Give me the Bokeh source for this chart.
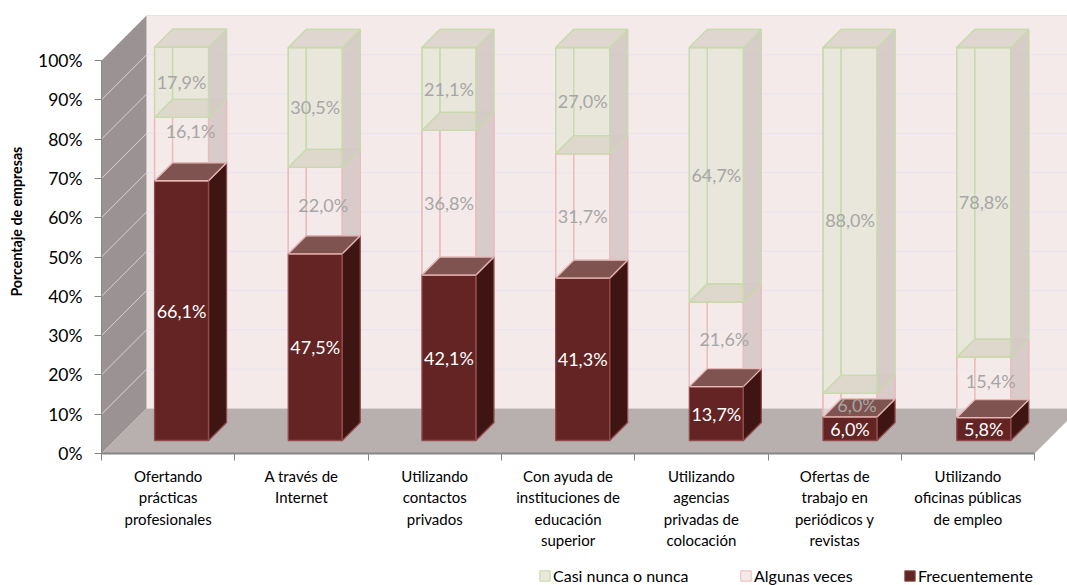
from math import pi
from bokeh.embed import file_html
from bokeh.resources import INLINE
from bokeh.plotting import figure
from bokeh.models import (ColumnDataSource, FixedTicker, Label, Legend, LegendItem,
                          Range1d, PrintfTickFormatter)
from bokeh.core.properties import value

categories = ["Ofertando\nprácticas\nprofesionales", "A través de\nInternet",
              "Utilizando\ncontactos\nprivados",
              "Con ayuda de\ninstituciones de\neducación\nsuperior",
              "Utilizando\nagencias\nprivadas de\ncolocación",
              "Ofertas de\ntrabajo en\nperiódicos y\nrevistas",
              "Utilizando\noficinas públicas\nde empleo"]
frecuentemente = [66.1, 47.5, 42.1, 41.3, 13.7, 6.0, 5.8]
algunas_veces = [16.1, 22.0, 36.8, 31.7, 21.6, 6.0, 15.4]
casi_nunca = [17.9, 30.5, 21.1, 27.0, 64.7, 88.0, 78.8]
y_ticks = [0, 10, 20, 30, 40, 50, 60, 70, 80, 90, 100]

# label nudges for the labels that Excel moved off the segment centre (px)
nudge_alg_x = [9, 8, 0, 0, 8, 7, 7]
nudge_alg_y = [-18, -6, 0, 0, -5, 0, -6]

FONT = "Lato"
PX_X, PX_Y = 133.3, 3.93          # pixels per category / per percent
STEP = 133.7 / 133.3              # slight spread of the bars in depth
WALL, BAR_NEAR, BAR_FAR = 45, 13, 31   # depth, in pixels
BAR_W = 54 / PX_X
W, H = 1067, 585
ORIGIN_X, ORIGIN_Y = 101, 453     # where 0/0 sits on the page


def pr(x, y, d):
    return x + d / PX_X, y + d / PX_Y


p = figure(width=W, height=H, output_backend="svg", toolbar_location=None,
           x_range=Range1d(-ORIGIN_X / PX_X, (W - ORIGIN_X) / PX_X),
           y_range=Range1d(-(H - ORIGIN_Y) / PX_Y, ORIGIN_Y / PX_Y),
           min_border_left=0, min_border_right=0, min_border_top=0, min_border_bottom=0,
           outline_line_color=None, background_fill_color="white", border_fill_color="white")
p.margin = (0, -8, -8, 0)
p.grid.visible = False

# walls and floor
walls = {"xs": [], "ys": [], "c": []}


def wall(pts, c):
    walls["xs"].append([a for a, _ in pts])
    walls["ys"].append([b for _, b in pts])
    walls["c"].append(c)


nc = len(categories)
wall([pr(0, 0, WALL), pr(nc, 0, WALL), pr(nc, 100, WALL), pr(0, 100, WALL)], "#F5EAEA")
wall([pr(0, 0, 0), pr(0, 0, WALL), pr(0, 100, WALL), pr(0, 100, 0)], "#9B9393")
wall([pr(0, 0, 0), pr(nc, 0, 0), pr(nc, 0, WALL), pr(0, 0, WALL)], "#B8AFAF")
p.patches("xs", "ys", source=ColumnDataSource(walls), fill_color="c", line_color=None)

gx0, gy0, gx1, gy1 = [], [], [], []
for t in y_ticks[1:]:
    a, b = pr(0, t, WALL), pr(nc, t, WALL)
    gx0.append(a[0]); gy0.append(a[1]); gx1.append(b[0]); gy1.append(b[1])
p.segment(gx0, gy0, gx1, gy1, line_color="#E6E2F0", line_width=1)
gx0, gy0, gx1, gy1 = [], [], [], []
for t in y_ticks[1:]:
    a, b = pr(0, t, 0), pr(0, t, WALL)
    gx0.append(a[0]); gy0.append(a[1]); gx1.append(b[0]); gy1.append(b[1])
p.segment(gx0, gy0, gx1, gy1, line_color="#D8D2D8", line_width=1)

# faces of the bars
faces = {"xs": [], "ys": [], "fc": [], "fa": [], "lc": []}


def face(pts, fc, fa, lc):
    faces["xs"].append([a for a, _ in pts])
    faces["ys"].append([b for _, b in pts])
    faces["fc"].append(fc)
    faces["fa"].append(fa)
    faces["lc"].append(lc)


def centre(i):
    return 3.512 + (i - 3) * STEP


def block(i, y0, y1, front, side, top, bottom, edge, top_edge, solid=False):
    c = centre(i)
    x0, x1 = c - BAR_W / 2, c + BAR_W / 2
    n, f = BAR_NEAR, BAR_FAR
    fr = [pr(x0, y0, n), pr(x1, y0, n), pr(x1, y1, n), pr(x0, y1, n)]
    bk = [pr(x0, y0, f), pr(x1, y0, f), pr(x1, y1, f), pr(x0, y1, f)]
    lf = [pr(x0, y0, n), pr(x0, y0, f), pr(x0, y1, f), pr(x0, y1, n)]
    rt = [pr(x1, y0, n), pr(x1, y0, f), pr(x1, y1, f), pr(x1, y1, n)]
    tp = [pr(x0, y1, n), pr(x1, y1, n), pr(x1, y1, f), pr(x0, y1, f)]
    bt = [pr(x0, y0, n), pr(x1, y0, n), pr(x1, y0, f), pr(x0, y0, f)]
    face(fr, front[0], front[1], None)
    if bottom:
        face(bt, bottom, 1, edge)
    if not solid:
        face(bk, "white", 0, edge)
        face(lf, "white", 0, edge)
    face(rt, side[0], side[1], edge)
    face(tp, top, 1, top_edge)
    face(fr, "white", 0, edge)
    face([pr(x0, y1, n), pr(x1, y1, n)], "white", 0, top_edge)


for i in range(nc):
    a, b = frecuentemente[i], frecuentemente[i] + algunas_veces[i]
    block(i, a, b, ("#F5EAEA", 0.6), ("#DACBCB", 1), "#DDD8CB", None, "#E8BDBC", "#E8BDBC")
for i in range(nc):
    a = frecuentemente[i]
    block(i, 0, a, ("#632423", 1), ("#3F1514", 1), "#7F5350", None, "#8E4B49", "#E6B9B8", solid=True)
for i in range(nc):
    b = frecuentemente[i] + algunas_veces[i]
    t = b + casi_nunca[i]
    block(i, b, t, ("#E9E6DB", 1), ("#D3CAC6", 0.92), "#DFD7CF", "#DDD8CB", "#C9DAAC", "#C9DAAC")
p.patches("xs", "ys", source=ColumnDataSource(faces), fill_color="fc", fill_alpha="fa",
          line_color="lc", line_width=1.3)

# data labels
lab = {"x": [], "y": [], "t": [], "c": [], "dx": [], "dy": []}


def fmt(v):
    return f"{v:.1f}%".replace(".", ",")


for i in range(nc):
    c = centre(i)
    a, b = frecuentemente[i], frecuentemente[i] + algunas_veces[i]
    t = b + casi_nunca[i]
    for y0, y1, v, col, nx, ny in [(0, a, frecuentemente[i], "#FFFFFF", 0, 0),
                                   (a, b, algunas_veces[i], "#A6A6A6", nudge_alg_x[i], nudge_alg_y[i]),
                                   (b, t, casi_nunca[i], "#A6A6A6", 0, 0)]:
        px, py = pr(c, (y0 + y1) / 2, BAR_NEAR)
        lab["x"].append(px); lab["y"].append(py); lab["t"].append(fmt(v)); lab["c"].append(col)
        lab["dx"].append(nx); lab["dy"].append(ny)
p.text("x", "y", text="t", source=ColumnDataSource(lab), text_color="c", x_offset="dx", y_offset="dy",
       text_align="center", text_baseline="middle", text_font=value(FONT), text_font_size="18px")

# axes
ax = p.yaxis[0]
ax.fixed_location = 0
ax.bounds = (0, 100)
ax.ticker = FixedTicker(ticks=y_ticks)
ax.formatter = PrintfTickFormatter(format="%d%%")
ax.axis_line_color = "#868686"
ax.major_tick_line_color = "#868686"
ax.major_tick_out = 7
ax.major_tick_in = 0
ax.minor_tick_line_color = None
ax.major_label_text_font = FONT
ax.major_label_text_font_size = "17.5px"
ax.major_label_text_color = "#000000"
ax.major_label_standoff = 12

bx = p.xaxis[0]
bx.fixed_location = 0
bx.bounds = (0, nc)
bx.ticker = FixedTicker(ticks=[i + 0.5 for i in range(nc)], minor_ticks=list(range(nc + 1)))
bx.major_label_overrides = {i + 0.5: categories[i] for i in range(nc)}
bx.axis_line_color = "#868686"
bx.axis_line_width = 2
bx.major_tick_line_color = None
bx.minor_tick_line_color = "#868686"
bx.minor_tick_out = 7
bx.minor_tick_in = 0
bx.major_tick_out = 0
bx.major_tick_in = 0
bx.major_label_standoff = 6
bx.major_label_text_font = FONT
bx.major_label_text_font_size = "15px"
bx.major_label_text_color = "#000000"
bx.major_label_text_line_height = 1.2

p.add_layout(Label(x=16, y=59, x_units="screen", y_units="data", text="Porcentaje de empresas",
                   angle=pi / 2, text_align="center", text_baseline="middle", text_font=FONT,
                   text_font_size="14.2px", text_font_style="bold", text_color="#000000"))

# legend
legend_items = [("Casi nunca o nunca", "#E9E6DB", "#C6D9A0", 538),
                ("Algunas veces", "#F5EAEA", "#E8BDBC", 739),
                ("Frecuentemente", "#632423", "#8E4B49", 903)]
for name, fc, lc, lx in legend_items:
    # a zero-size box: the legend needs a renderer with one row to draw its swatch
    r = p.quad(left=[-9], right=[-9], top=[-99], bottom=[-99], fill_color=fc, line_color=lc)
    p.add_layout(Legend(items=[LegendItem(label=name, renderers=[r])], location=(lx, 0),
                        background_fill_alpha=0, border_line_color=None, padding=0, margin=0,
                        glyph_width=13, glyph_height=13, label_standoff=2,
                        label_text_font=FONT, label_text_font_size="16px", label_text_color="#000000"))

open("out.html", "w").write(file_html(p, INLINE))
